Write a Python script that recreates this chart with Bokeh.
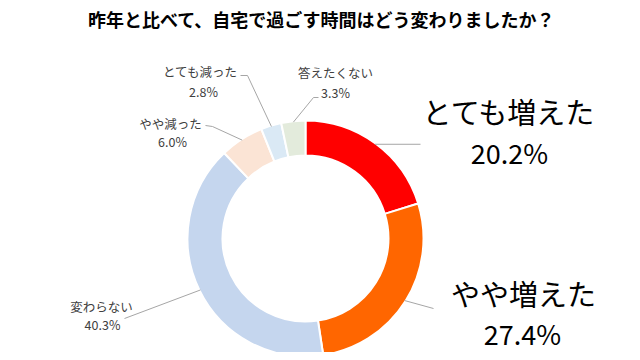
import math
from bokeh.plotting import figure
from bokeh.models import Range1d, ColumnDataSource
from bokeh.core.properties import value
from bokeh.embed import file_html
from bokeh.resources import INLINE

# ---- data ----
title_text = "昨年と比べて、自宅で過ごす時間はどう変わりましたか？"
categories = ["とても増えた", "やや増えた", "変わらない", "やや減った", "とても減った", "答えたくない"]
shares = [20.2, 27.4, 40.3, 6.0, 2.8, 3.3]
colors = ["#FF0000", "#FF6600", "#C5D6EE", "#FBE4D5", "#DAE9F5", "#E3EBDC"]

# ---- layout (picture pixels; y measured from top) ----
W, H = 632, 352
FONT = "Noto Sans CJK JP"
cx_pg, cy_pg = 305, 238
R_OUT, R_IN = 118, 83

def Y(py):
    return H - py

p = figure(width=W, height=H, output_backend="svg", toolbar_location=None,
           x_range=Range1d(0, W), y_range=Range1d(0, H),
           min_border=0, outline_line_color=None,
           background_fill_color="white", border_fill_color="white")
p.axis.visible = False
p.grid.visible = False

cx, cy = cx_pg, Y(cy_pg)
total = sum(shares)
starts, ends, mids = [], [], []
acc = 0.0
for s in shares:
    a0 = math.pi / 2 - 2 * math.pi * acc / total
    acc += s
    a1 = math.pi / 2 - 2 * math.pi * acc / total
    starts.append(a0)
    ends.append(a1)
    mids.append((a0 + a1) / 2)

src = ColumnDataSource(dict(start=starts, end=ends, color=colors, cat=categories))
p.annular_wedge(x=cx, y=cy, inner_radius=R_IN, outer_radius=R_OUT,
                start_angle="start", end_angle="end", direction="clock",
                fill_color="color", line_color="white", line_width=2, source=src)

# leader lines: label-side points (style), slice-side point computed from data
label_side = [
    [(420, 142)],
    [(433, 308)],
    [(124, 318)],
    [(205, 125), (212, 126)],
    [(240, 75), (247, 75)],
    [(318, 97), (313, 97)],
]
xs, ys = [], []
for i, pts in enumerate(label_side):
    ex = cx + (R_OUT - 1) * math.cos(mids[i])
    ey = cy + (R_OUT - 1) * math.sin(mids[i])
    if i == 0:
        lx = [ex, pts[0][0]]
        ly = [ey, ey]
    else:
        lx = [pp[0] for pp in pts] + [ex]
        ly = [Y(pp[1]) for pp in pts] + [ey]
    xs.append(lx)
    ys.append(ly)
p.multi_line(xs=xs, ys=ys, line_color="#A6A6A6", line_width=1)

# title
p.text(x=[321], y=[Y(18)], text=[title_text], text_font=value(FONT),
       text_font_size="18px", text_font_style="bold", text_color="#000000",
       text_align="center", text_baseline="middle")

# labels: (name x, name y, pct x, pct y, size, color)
label_pos = [
    (509, 110, 509, 152, "29px", "27px", "#000000"),
    (523, 292, 522, 333, "29px", "27px", "#000000"),
    (101, 306, 102, 324, "12.5px", "12.5px", "#404040"),
    (170, 123, 172, 141, "12.5px", "12.5px", "#404040"),
    (200, 71, 203, 91, "12.5px", "12.5px", "#404040"),
    (335, 72, 335, 92, "12.5px", "12.5px", "#404040"),
]
for i, (nx, ny, px_, py_, s1, s2, c) in enumerate(label_pos):
    p.text(x=[nx], y=[Y(ny)], text=[categories[i]], text_font=value(FONT),
           text_font_size=s1, text_color=c, text_align="center", text_baseline="middle")
    p.text(x=[px_], y=[Y(py_)], text=[f"{shares[i]:.1f}%"], text_font=value(FONT),
           text_font_size=s2, text_color=c, text_align="center", text_baseline="middle")

open("out.html", "w").write(file_html(p, INLINE))
